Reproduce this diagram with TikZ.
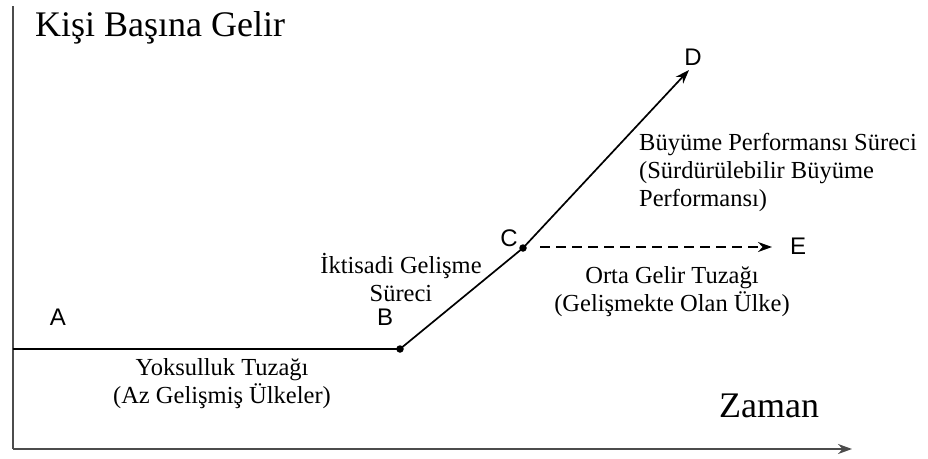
\documentclass[tikz,border=0pt]{standalone}
\usepackage{fontspec}
\setmainfont{Liberation Serif}
\newfontfamily\lettersf{Liberation Sans}
\usetikzlibrary{arrows.meta}
\begin{document}
\begin{tikzpicture}[x=1pt,y=-1pt,
  lbl/.style={font=\fontsize{24.5}{28}\selectfont, align=center, inner sep=0pt},
  pt/.style={font=\lettersf\fontsize{24}{26}\selectfont, inner sep=0pt},
  axis/.style={line width=2pt, draw=black!70},
  curve/.style={line width=1.7pt},
  dot/.style={circle, fill=black, inner sep=0pt, minimum size=7.5pt}]
\useasboundingbox (0,0) rectangle (928,458);

% axes
\coordinate (O) at (12.5,449);
\coordinate (Ytop) at (12.5,6);
\coordinate (Xend) at (852,449);
\draw[axis] (Ytop) -- (O);
\draw[axis, -{Stealth[length=14pt,width=10pt]}] (O) -- (Xend);
\node[font=\fontsize{36}{40}\selectfont, anchor=base west, inner sep=0pt] (ylab) at (35,36) {Kişi Başına Gelir};
\node[font=\fontsize{36}{40}\selectfont, anchor=base west, inner sep=0pt] (xlab) at (719,417) {Zaman};

% path points
\coordinate (Astart) at (12.5,349);
\node[dot] (B) at (400,349) {};
\node[dot] (C) at (523,248) {};
\coordinate (D) at (689,70);
\coordinate (Cd) at (540,247);
\coordinate (E) at (772,247);

\draw[curve] (Astart) -- (B.center);
\draw[curve] (B.center) -- (C.center);
\draw[curve, -{Stealth[length=14pt,width=10pt]}] (C.center) -- (D);
\draw[curve, dash pattern=on 10pt off 6pt, -{Stealth[length=14pt,width=10pt]}] (Cd) -- (E);

% point letters
\node[pt] (lA) at (58,317) {A};
\node[pt] (lB) at (385,317) {B};
\node[pt] (lC) at (509,238) {C};
\node[pt] (lD) at (693,57) {D};
\node[pt] (lE) at (798,246) {E};

% stage labels
\node[lbl] (ik) at (401,278) {İktisadi Gelişme\\Süreci};
\node[lbl] (yok) at (222,384) {Yoksulluk Tuzağı\\(Az Gelişmiş Ülkeler)};
\node[lbl] (orta) at (672,292) {Orta Gelir Tuzağı\\(Gelişmekte Olan Ülke)};
\node[lbl, align=left, anchor=north west] (buy) at (639,133)
  {Büyüme Performansı Süreci\\(Sürdürülebilir Büyüme\\Performansı)};
\end{tikzpicture}
\end{document}
